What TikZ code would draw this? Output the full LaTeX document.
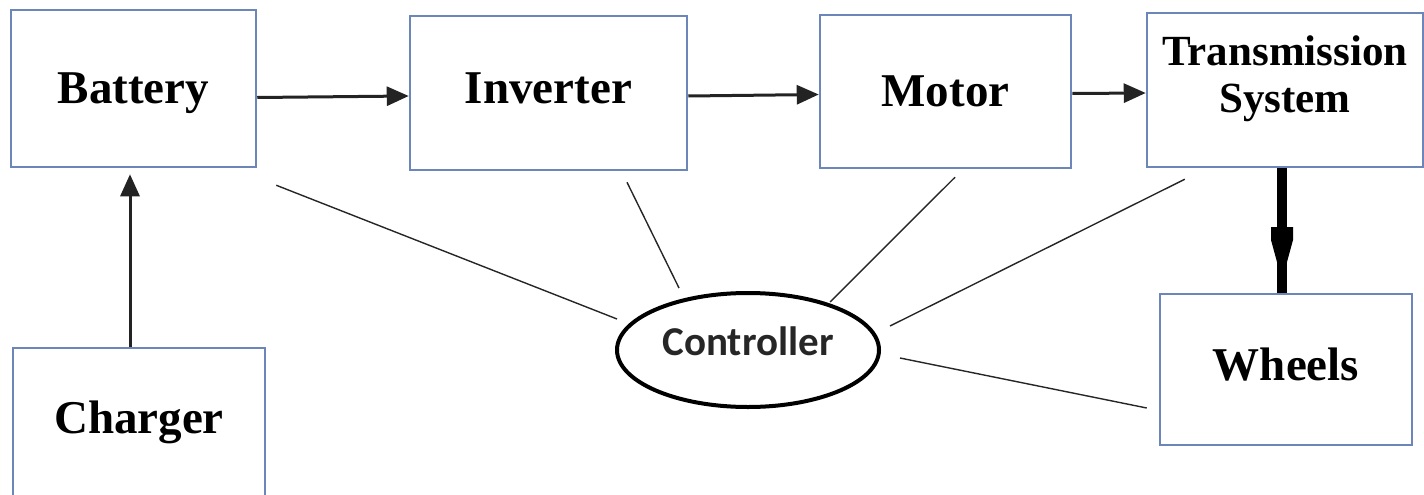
\documentclass[tikz,border=0pt]{standalone}
\usepackage{fontspec}
\setmainfont{Liberation Serif}
\newfontfamily\ctlfont{Carlito}
\usetikzlibrary{arrows.meta,shapes.geometric}
\definecolor{boxblue}{RGB}{108,134,186}
\definecolor{arrgray}{RGB}{35,35,35}
\begin{document}
\begin{tikzpicture}[x=1pt,y=-1pt,
  box/.style={draw=boxblue,line width=2.5pt,rectangle,inner sep=0pt,
    font=\fontsize{47}{52}\selectfont\bfseries,text depth=0pt},
  arr/.style={draw=arrgray,line width=3pt,-{Triangle[length=22pt,width=19pt]}},
  ctlline/.style={draw=black!85,line width=1.4pt},
  ctlnode/.style={draw=black,line width=4pt,ellipse,inner sep=0pt,
    minimum width=262pt,minimum height=114pt,text=black!85,
    font=\ctlfont\bfseries\fontsize{41}{46}\selectfont,text height=10pt,text depth=0pt}]
\useasboundingbox (0,0) rectangle (1424,495);
\node[box,minimum width=245pt,minimum height=157pt,text height=29pt] (bat) at (133.5,88.5) {Battery};
\node[box,minimum width=277pt,minimum height=154pt,text height=20pt] (inv) at (548.5,93) {Inverter};
\node[box,minimum width=251pt,minimum height=153pt,text height=29pt] (mot) at (945.5,91.5) {Motor};
\node[box,minimum width=276pt,minimum height=154pt,align=center,
  font=\fontsize{43}{47}\selectfont\bfseries,text height=44pt,text depth=0pt] (trans) at (1285,90) {Transmission\\System};
\node[box,minimum width=252pt,minimum height=151pt,text height=21pt] (whl) at (1286,369.5) {Wheels};
\node[box,minimum width=252pt,minimum height=152pt,text height=18pt] (chg) at (139,424) {Charger};
\node[ctlnode] (ctl) at (748,350) {Controller};
% main flow
\draw[arr] ([yshift=-9pt]bat.east) -- ([yshift=-3pt]inv.west);
\draw[arr] ([yshift=-3pt]inv.east) -- ([yshift=-3pt]mot.west);
\draw[arr] ([yshift=-2pt]mot.east) -- ([yshift=-3pt]trans.west);
\coordinate (cx) at (130,0);
\draw[arr,shorten >=6pt] (chg.north -| cx) -- (bat.south -| cx);
% transmission to wheels (thick)
\coordinate (tx) at (1282,0);
\draw[line width=10pt,black] (trans.south -| tx) -- (whl.north -| tx);
\fill[black] (1271,227) -- (1293,227) -- (1293,240) -- (1287,262) -- (1277,262) -- (1271,240) -- cycle;
% controller links
\draw[ctlline] ([shift={(19,17)}]bat.south east) -- ([shift={(-131,-31)}]ctl.center);
\draw[ctlline] ([shift={(78.5,11)}]inv.south) -- ([shift={(-69,-62)}]ctl.center);
\draw[ctlline] ([shift={(9.5,8)}]mot.south) -- ([shift={(82,-48)}]ctl.center);
\draw[ctlline] ([shift={(39,11)}]trans.south west) -- ([shift={(142,-24)}]ctl.center);
\draw[ctlline] ([shift={(152,8)}]ctl.center) -- ([shift={(-12,38.5)}]whl.west);
\end{tikzpicture}
\end{document}
